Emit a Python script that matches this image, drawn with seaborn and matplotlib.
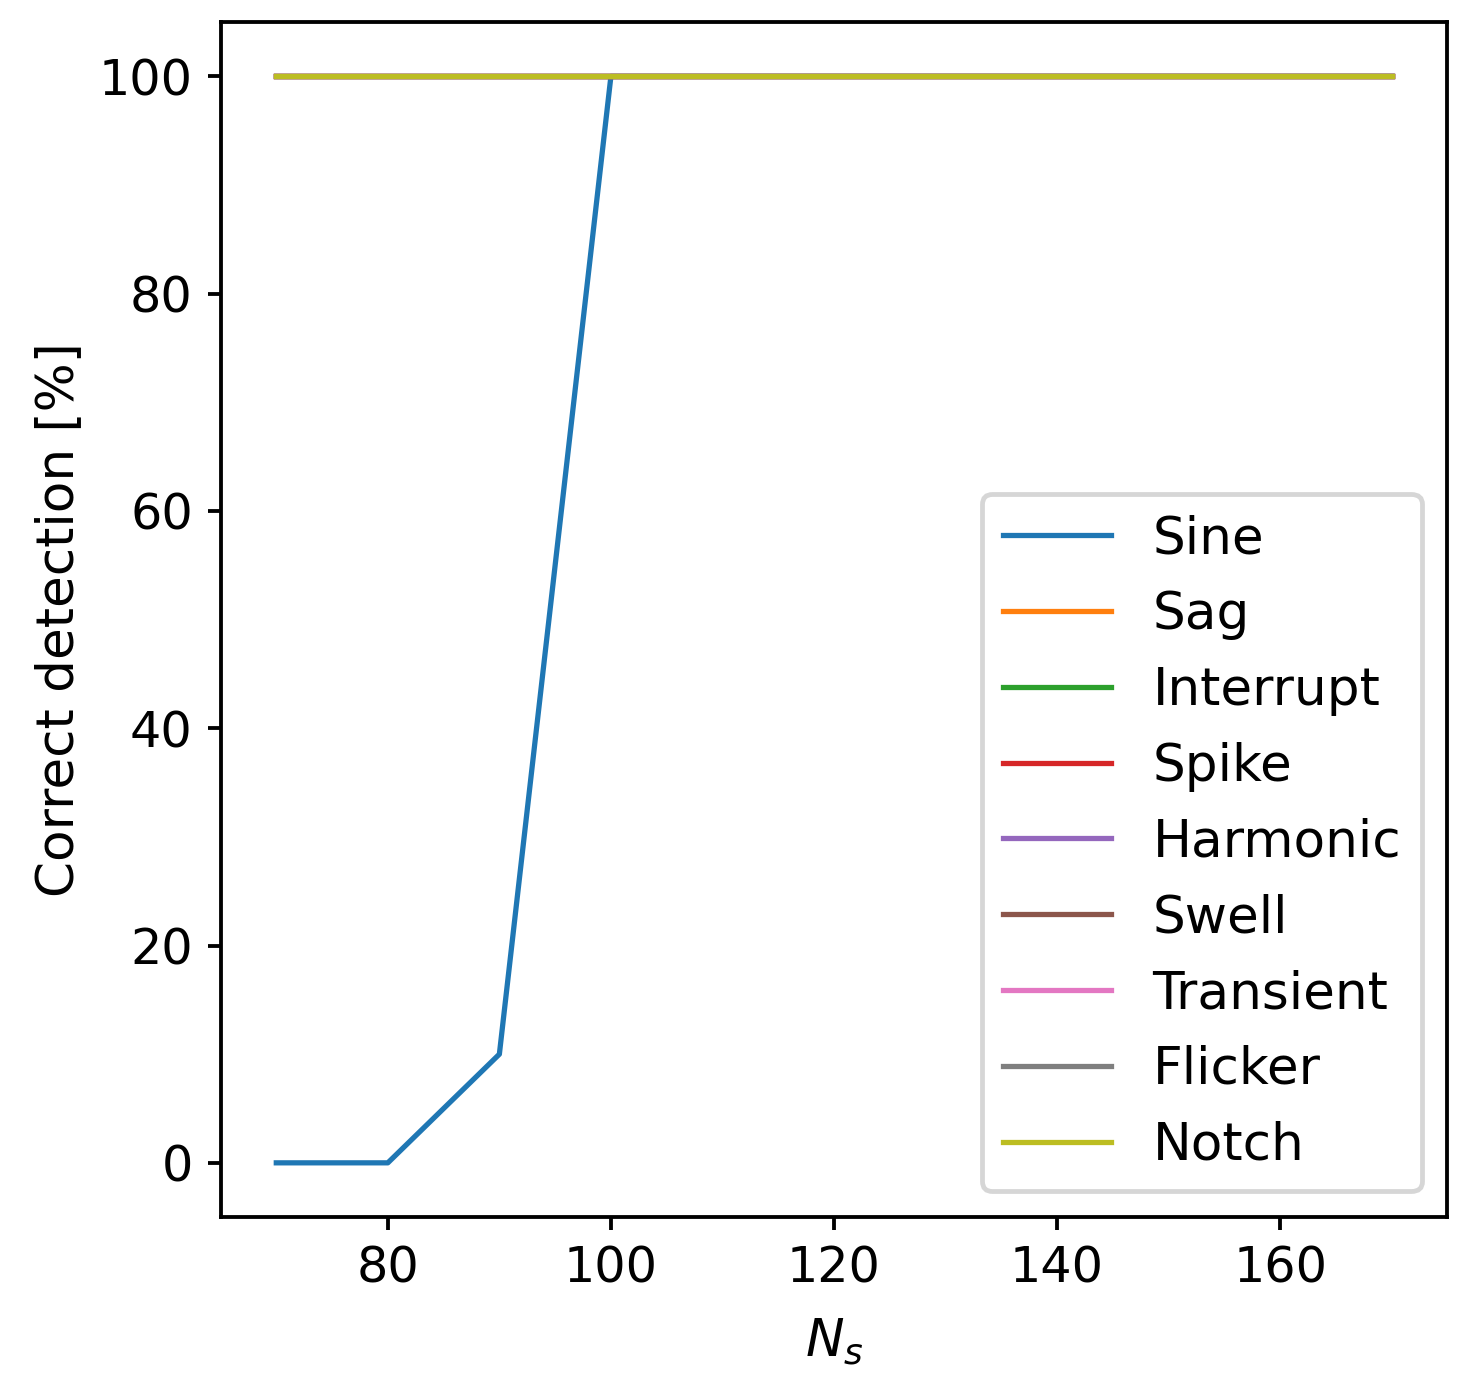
import numpy as np
import pandas as pd
import seaborn as sns
import matplotlib
matplotlib.use("Agg")
import matplotlib.pyplot as plt

ns_values = [70, 80, 90, 100, 110, 120, 130, 140, 150, 160, 170]
signals = ["Sine", "Sag", "Interrupt", "Spike", "Harmonic",
           "Swell", "Transient", "Flicker", "Notch"]
sine_pct = [0, 0, 10, 100, 100, 100, 100, 100, 100, 100, 100]
sag_pct = [100] * 11
interrupt_pct = [100] * 11
spike_pct = [100] * 11
harmonic_pct = [100] * 11
swell_pct = [100] * 11
transient_pct = [100] * 11
flicker_pct = [100] * 11
notch_pct = [100] * 11

series = [sine_pct, sag_pct, interrupt_pct, spike_pct, harmonic_pct,
          swell_pct, transient_pct, flicker_pct, notch_pct]

rows = []
for name, vals in zip(signals, series):
    for n, v in zip(ns_values, vals):
        rows.append({"Ns": n, "detection": v, "signal": name})
df = pd.DataFrame(rows)

DPI = 344
fig = plt.figure(figsize=(1480 / DPI, 1380 / DPI), dpi=DPI)
ax = fig.add_axes([0.149, 0.118, 0.829, 0.866])

sns.lineplot(data=df, x="Ns", y="detection", hue="signal",
             hue_order=signals, palette="tab10", ax=ax, linewidth=1.1)

ax.set_xlabel(r"$N_s$", labelpad=5, fontsize=10.8)
ax.set_ylabel("Correct detection [%]", labelpad=3, fontsize=10.8)
ax.set_xticks([80, 100, 120, 140, 160])
ax.set_yticks([0, 20, 40, 60, 80, 100])
ax.tick_params(length=2.8, pad=3, labelsize=10.3)
ax.legend(loc="lower right", title=None, handlelength=2.1, fontsize=10.8)

fig.savefig("out.png", dpi=DPI)
